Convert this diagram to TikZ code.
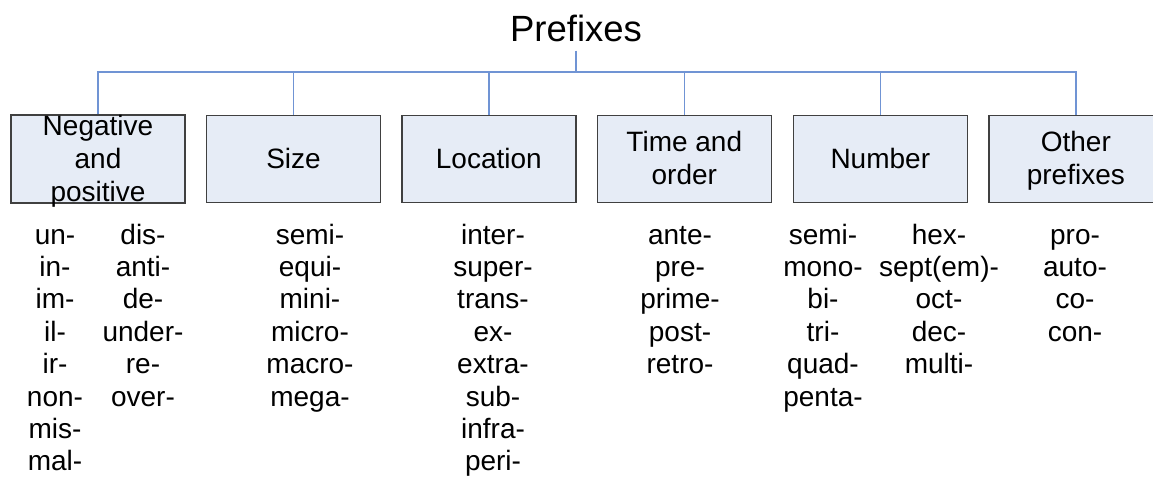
\documentclass[tikz,border=0pt]{standalone}
\usepackage{fontspec}
\setmainfont{Liberation Sans}
\definecolor{linkblue}{RGB}{112,148,212}
\definecolor{boxfill}{RGB}{230,236,246}
\definecolor{boxline}{RGB}{64,64,64}
\newcommand{\plist}[1]{\begin{tabular}[t]{@{}c@{}}#1\end{tabular}}
\begin{document}
\begin{tikzpicture}[x=1pt,y=-1pt,
  cat/.style={draw=boxline, fill=boxfill, line width=1.4pt, minimum width=174pt, minimum height=87pt,
    inner sep=0pt, align=center, font=\fontsize{28}{33}\selectfont, text depth=0.2em},
  link/.style={draw=linkblue, line width=1.4pt},
  items/.style={anchor=base, inner sep=0pt, font=\fontsize{28}{32.4}\selectfont}]
\useasboundingbox (0,0) rectangle (1153,480);
\clip (0,0) rectangle (1153,480);
\node[font=\fontsize{36.5}{40}\selectfont, anchor=base, inner sep=0pt] (title) at (576,41.7) {Prefixes};
\coordinate (hub) at (576,72);
\node[cat] (neg) at (98,159) {Negative\\and\\positive};
\node[cat] (size) at (293.5,159) {Size};
\node[cat] (loc) at (488.8,159) {Location};
\node[cat] (time) at (684.3,159) {Time and\\order};
\node[cat] (num) at (880.3,159) {Number};
\node[cat] (other) at (1075.8,159) {Other\\prefixes};
\draw[link] ([yshift=-8.3pt]title.south) -- (hub);
\draw[link] (neg.north) -- (neg.north |- hub) -- (other.north |- hub) -- (other.north);
\foreach \n in {size,loc,time,num}{\draw[link] (\n.north) -- (\n.north |- hub);}
\node[items] (negA) at (55,244) {\plist{un-\\in-\\im-\\il-\\ir-\\non-\\mis-\\mal-}};
\node[items] (negB) at (143,244) {\plist{dis-\\anti-\\de-\\under-\\re-\\over-}};
\node[items] (sizeL) at (310,244) {\plist{semi-\\equi-\\mini-\\micro-\\macro-\\mega-}};
\node[items] (locL) at (493,244) {\plist{inter-\\super-\\trans-\\ex-\\extra-\\sub-\\infra-\\peri-}};
\node[items] (timeL) at (680,244) {\plist{ante-\\pre-\\prime-\\post-\\retro-}};
\node[items] (numA) at (823,244) {\plist{semi-\\mono-\\bi-\\tri-\\quad-\\penta-}};
\node[items] (numB) at (939,244) {\plist{hex-\\sept(em)-\\oct-\\dec-\\multi-}};
\node[items] (otherL) at (1075,244) {\plist{pro-\\auto-\\co-\\con-}};
\end{tikzpicture}
\end{document}
